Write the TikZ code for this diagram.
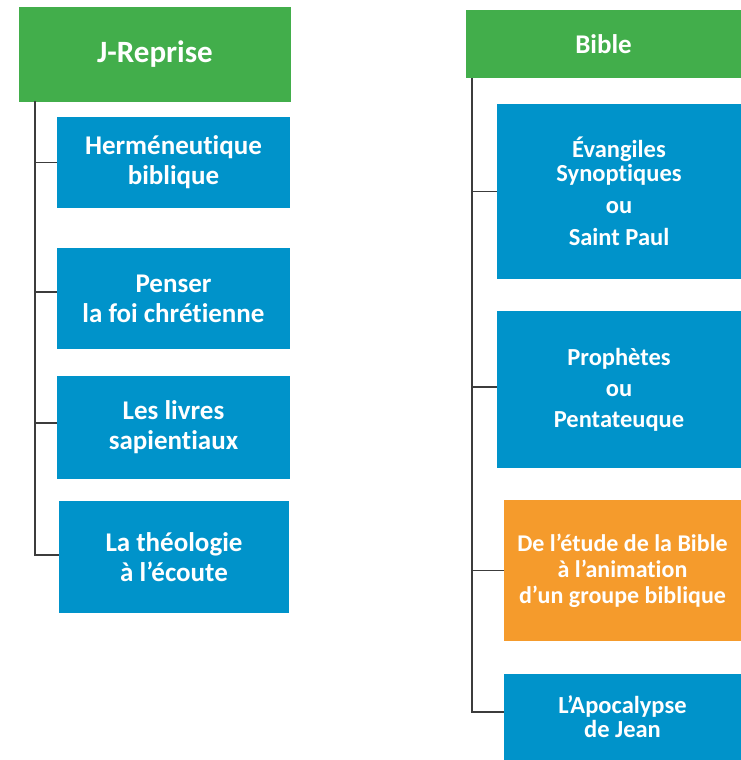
\documentclass[tikz,border=0pt]{standalone}
\usepackage{fontspec}
\setmainfont{Carlito}[RawFeature=-liga]
\definecolor{hgreen}{HTML}{42AE4B}
\definecolor{bblue}{HTML}{0093CA}
\definecolor{borange}{HTML}{F59B2C}
\definecolor{lgray}{HTML}{3C3C3C}
\tikzset{
  box/.style={inner sep=0pt, align=center, text=white, font=\bfseries},
  head/.style={box, fill=hgreen, font=\bfseries\fontsize{27}{30}\selectfont},
  lbox/.style={box, fill=bblue, font=\bfseries\fontsize{27}{30}\selectfont},
  rbox/.style={box, fill=bblue, font=\bfseries\fontsize{24.5}{24}\selectfont},
  obox/.style={box, fill=borange, font=\bfseries\fontsize{24}{26}\selectfont},
  conn/.style={draw=lgray, line width=1.3pt}
}
\begin{document}
\begin{tikzpicture}[x=1pt,y=-1pt]
\useasboundingbox (0,0) rectangle (741,760);
% left column
\node[head, minimum width=272pt, minimum height=94pt] (L0) at (155,54.5) {\fontsize{31}{34}\selectfont J-Reprise};
\node[lbox, minimum width=233pt, minimum height=91pt] (L1) at (173.5,162.5) {Herméneutique\\biblique};
\node[lbox, minimum width=233pt, minimum height=101pt] (L2) at (173.5,298.5) {Penser\\la foi chrétienne};
\node[lbox, minimum width=233pt, minimum height=103pt] (L3) at (173.5,427.5) {Les livres\\sapientiaux};
\node[lbox, minimum width=230pt, minimum height=112pt] (L4) at (174,557) {La théologie\\à l’écoute};
\coordinate (lt) at (35,101);
\coordinate (lb1) at (L1.west);
\coordinate (lb2) at ([yshift=6.5pt]L2.west);
\coordinate (lb3) at ([yshift=4.5pt]L3.west);
\coordinate (lb4) at ([yshift=2pt]L4.west);
\draw[conn] (lt) |- (lb4);
\draw[conn] (lt |- lb1) -- (lb1);
\draw[conn] (lt |- lb2) -- (lb2);
\draw[conn] (lt |- lb3) -- (lb3);
% right column
\node[head, minimum width=275pt, minimum height=68pt] (R0) at (603.5,44) {Bible};
\node[rbox, minimum width=244pt, minimum height=175pt] (R1) at (619,191.5) {Évangiles\\Synoptiques\\[8pt]ou\\[8pt]Saint Paul};
\node[rbox, minimum width=244pt, minimum height=157pt] (R2) at (619,389.5) {Prophètes\\[7pt]ou\\[7pt]Pentateuque};
\node[obox, minimum width=237pt, minimum height=141pt] (R3) at (622.5,570.5) {De l’étude de la Bible\\à l’animation\\d’un groupe biblique};
\node[rbox, minimum width=237pt, minimum height=86pt] (R4) at (622.5,717) {L’Apocalypse\\de Jean};
\coordinate (rt) at (472,78);
\coordinate (rb1) at (R1.west);
\coordinate (rb2) at ([yshift=2.5pt]R2.west);
\coordinate (rb3) at (R3.west);
\coordinate (rb4) at ([yshift=5pt]R4.west);
\draw[conn] (rt) |- (rb4);
\draw[conn] (rt |- rb1) -- (rb1);
\draw[conn] (rt |- rb2) -- (rb2);
\draw[conn] (rt |- rb3) -- (rb3);
\end{tikzpicture}
\end{document}
